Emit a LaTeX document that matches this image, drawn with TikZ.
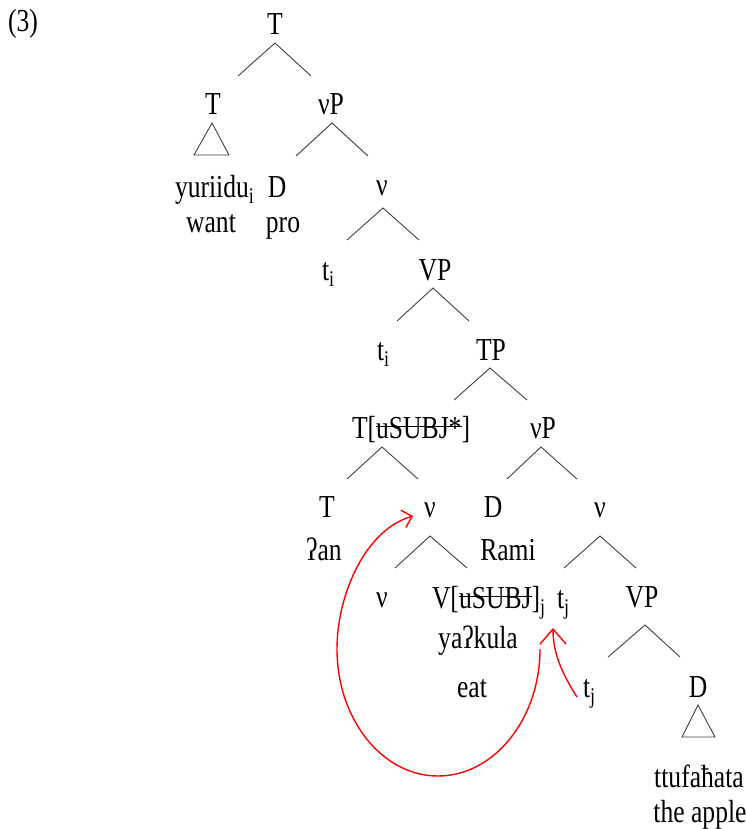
\documentclass[tikz,border=0pt]{standalone}
\usepackage{fontspec}
\setmainfont{Liberation Serif}[FakeStretch=0.8]
\usetikzlibrary{arrows.meta}
\newsavebox\strkbox
\newcommand\strk[1]{\sbox\strkbox{#1}\rlap{\usebox\strkbox}\rule[0.72ex]{\wd\strkbox}{1.1pt}}
\newcommand\fork[4]{\coordinate (#1) at (#2);\coordinate (#1l) at (#3);\coordinate (#1r) at (#4);\draw[branch] (#1l) -- (#1) -- (#1r);}
\newcommand\tri[4]{\coordinate (#1) at (#2);\coordinate (#1l) at (#3);\coordinate (#1r) at (#4);\draw[branch] (#1) -- (#1l) -- (#1r) -- cycle;}
\begin{document}
\begin{tikzpicture}[x=1pt,y=-1pt,
  every node/.style={inner sep=0pt,outer sep=0pt,font=\fontsize{32}{38}\selectfont},
  lbl/.style={anchor=base},
  lblw/.style={anchor=base west},
  branch/.style={draw=black!75,line width=0.9pt,line join=miter},
  mv/.style={draw=red,line width=1.4pt}]
\useasboundingbox (0,0) rectangle (746,829);
\fill[white] (0,0) rectangle (746,829);
% labels
\node[lbl] (ex) at (23,32) {(3)};
\node[lbl] (T0) at (275,35) {T};
\node[lbl] (T1) at (213,115) {T};
\node[lbl] (vP1) at (331,115) {νP};
\node[lblw] (yur) at (175,197) {yuriidu\textsubscript{i}};
\node[lbl] (want) at (211,232) {want};
\node[lbl] (D1) at (277,197) {D};
\node[lbl] (pro) at (283,232) {pro};
\node[lbl] (v1) at (382,195) {ν};
\node[lblw] (ti1) at (322,280) {t\textsubscript{i}};
\node[lbl] (VP1) at (435,280) {VP};
\node[lblw] (ti2) at (377,360) {t\textsubscript{i}};
\node[lbl] (TP) at (491,360) {TP};
\node[lblw] (Tu) at (352,438) {T[\strk{uSUBJ*}]};
\node[lblw] (vP2) at (530,438) {νP};
\node[lbl] (T2) at (327,517) {T};
\node[lbl] (an) at (324,560) {ʔan};
\node[lbl] (v2) at (430,517) {ν};
\node[lbl] (D2) at (493,517) {D};
\node[lbl] (rami) at (508,560) {Rami};
\node[lbl] (v3) at (600,517) {ν};
\node[lbl] (v4) at (382,607) {ν};
\node[lblw] (Vu) at (432,608) {V[\strk{uSUBJ}]\textsubscript{j}};
\node[lblw] (tj1) at (557,608) {t\textsubscript{j}};
\node[lbl] (VP2) at (642,607) {VP};
\node[lbl] (yak) at (478,648) {yaʔkula};
\node[lbl] (eat) at (472,697) {eat};
\node[lblw] (tj2) at (583,697) {t\textsubscript{j}};
\node[lbl] (D3) at (698,697) {D};
\node[lbl] (ttu) at (699,787) {ttufaħata};
\node[lbl] (apple) at (700,822) {the apple};
% branches
\fork{f1}{275,43}{238,76}{311,76}
\fork{f2}{332,123}{296,156}{368,156}
\fork{f3}{383,208}{347,240}{419,240}
\fork{f4}{433,288}{397,321}{469,321}
\fork{f5}{490,368}{454,400}{527,400}
\fork{f6}{382,447}{347,479}{418,479}
\fork{f7}{541,447}{507,479}{577,479}
\fork{f8}{430,536}{395,568}{467,568}
\fork{f9}{600,536}{564,568}{636,568}
\fork{f10}{645,625}{608,657}{680,657}
\tri{g1}{212,123}{194,155}{229,155}
\tri{g2}{698,705}{682,737}{715,737}
% movement arrows
\coordinate (m1s) at (577,697);
\coordinate (m1e) at (553,628);
\draw[mv,-{Straight Barb[length=15pt,width=26pt]}] (m1s) .. controls (561,672) and (553,652) .. (m1e);
\coordinate (m2s) at (540,649);
\coordinate (m2e) at (413,516);
\draw[mv,-{Straight Barb[length=9pt,width=18pt]}] (m2s) .. controls (540,719) and (494,776) .. (438,776) .. controls (382,776) and (337,719) .. (337,649) .. controls (337,595) and (365,530) .. (m2e);
\end{tikzpicture}
\end{document}
